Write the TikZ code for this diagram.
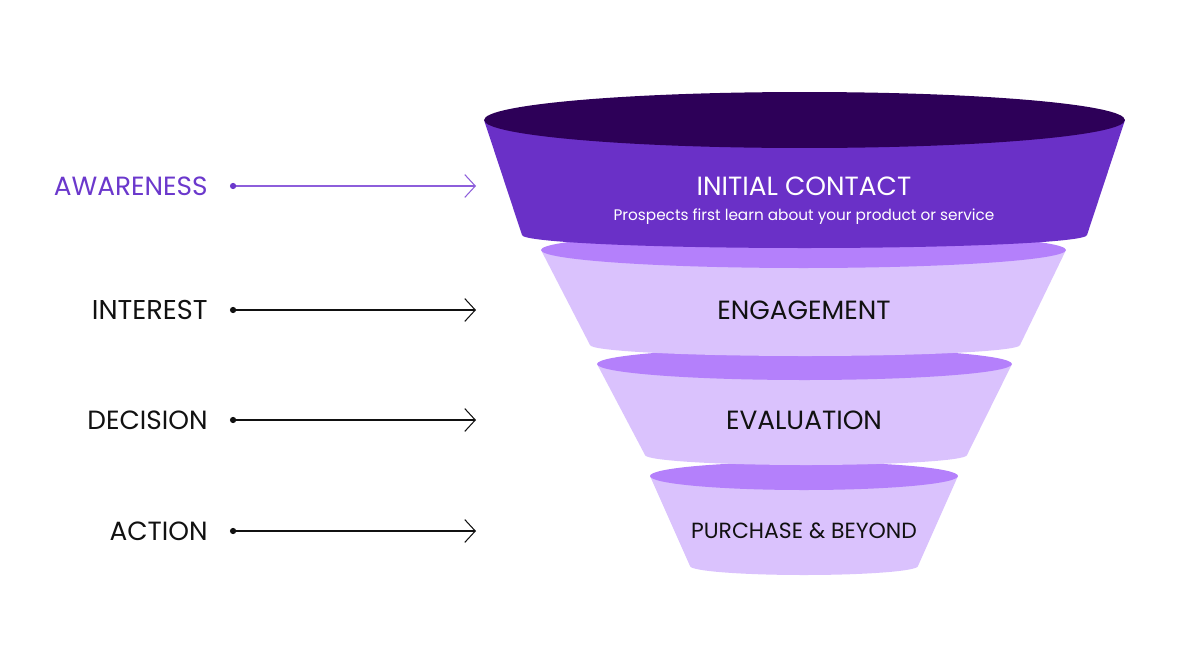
\documentclass[tikz,border=0pt]{standalone}
\usepackage{fontspec}
\setmainfont{Poppins}
\usepackage{tikz}
\usetikzlibrary{arrows.meta, positioning}
\definecolor{lidtop}{HTML}{2D0058}
\definecolor{primary}{HTML}{6A30C7}
\definecolor{lidlight}{HTML}{B480FB}
\definecolor{bodylight}{HTML}{DAC2FD}
\definecolor{accent}{HTML}{6B38CC}
\definecolor{accentline}{HTML}{8D5EDB}
\definecolor{ink}{HTML}{111111}

\begin{document}
\begin{tikzpicture}[
  x=0.02cm, y=-0.02cm,
  font=\fontsize{15}{17}\selectfont,
  stage/.style={anchor=east, inner sep=0pt, text=ink},
  ttl/.style={inner sep=0pt, text=ink},
  arr/.style={{Circle[length=3.5pt]}-{Straight Barb[length=6pt, width=13pt]},
              ink, line width=0.6pt, shorten <=0.44cm}
]
  \useasboundingbox (0,0) rectangle (1200,670);

  % ── Funnel: bottom segment first ───────────────────────────────────────────
  \fill[bodylight] (650,476) -- (690,566) -- (918,566) -- (958,476) -- cycle;
  \fill[bodylight] (804,566) ellipse [x radius=2.28cm, y radius=0.18cm];
  \fill[lidlight]  (804,476) ellipse [x radius=3.08cm, y radius=0.28cm];

  \fill[bodylight] (597,364) -- (645,455) -- (967,455) -- (1012,364) -- cycle;
  \fill[bodylight] (806,455) ellipse [x radius=3.22cm, y radius=0.20cm];
  \fill[lidlight]  (804.5,364) ellipse [x radius=4.15cm, y radius=0.32cm];

  \fill[bodylight] (541,250) -- (590,345) -- (1020,345) -- (1066,250) -- cycle;
  \fill[bodylight] (805,345) ellipse [x radius=4.30cm, y radius=0.22cm];
  \fill[lidlight]  (803.5,250) ellipse [x radius=5.25cm, y radius=0.36cm];

  \fill[primary] (484,120) -- (522,235) -- (1087,235) -- (1125,120) -- cycle;
  \fill[primary] (804.5,235) ellipse [x radius=5.65cm, y radius=0.26cm];
  \fill[lidtop]  (804.5,120) ellipse [x radius=6.41cm, y radius=0.56cm];

  % ── Funnel texts ───────────────────────────────────────────────────────────
  \node[ttl, text=white] (ic) at (804,186) {INITIAL CONTACT};
  \node[ttl, text=white, below=0.26cm of ic, font=\fontsize{8.7}{10}\selectfont] (sub)
    {Prospects first learn about your product or service};
  \node[ttl] (en) at (804,310) {ENGAGEMENT};
  \node[ttl] (ev) at (804,420) {EVALUATION};
  \node[ttl, font=\fontsize{12.5}{14}\selectfont] (pb) at (804,531) {PURCHASE \& BEYOND};

  % ── Stage labels ───────────────────────────────────────────────────────────
  \node[stage, text=accent] (aw) at (208,186) {AWARENESS};
  \node[stage, font=\fontsize{15.5}{17}\selectfont] (it) at (208,310) {INTEREST};
  \node[stage] (de) at (208,420) {DECISION};
  \node[stage] (ac) at (208,531) {ACTION};

  \coordinate (aw-end) at (476,186);
  \coordinate (it-end) at (476,310);
  \coordinate (de-end) at (476,420);
  \coordinate (ac-end) at (476,531);

  % ── Arrows ─────────────────────────────────────────────────────────────────
  \draw[arr, accentline,
        {Circle[length=3.5pt, accent]}-{Straight Barb[length=6pt, width=13pt]}]
    (aw.east) -- (aw-end);
  \draw[arr] (it.east) -- (it-end);
  \draw[arr] (de.east) -- (de-end);
  \draw[arr] (ac.east) -- (ac-end);
\end{tikzpicture}
\end{document}
